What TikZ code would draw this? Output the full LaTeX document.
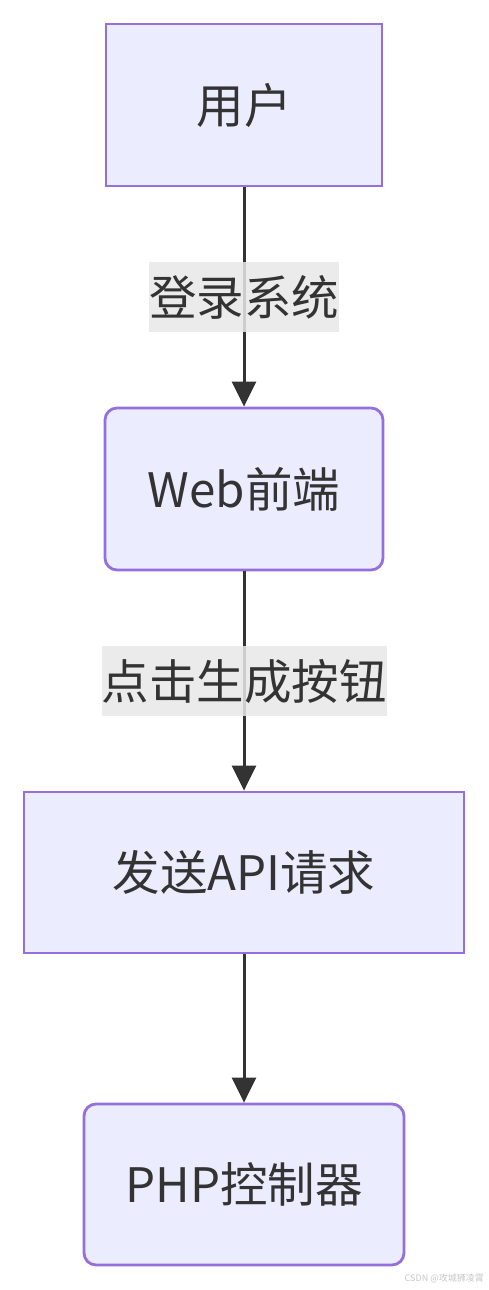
\documentclass[tikz,border=0pt]{standalone}
\usepackage{fontspec}
\newfontfamily\cjk{Noto Sans CJK SC}
\usepackage{tikz}
\usetikzlibrary{positioning}
\usetikzlibrary{arrows.meta}
\definecolor{nodefill}{HTML}{ECECFF}
\definecolor{nodeline}{HTML}{9370DB}
\definecolor{txt}{HTML}{333333}
\definecolor{lblbg}{HTML}{E8E8E8}
\tikzset{
  box/.style={draw=nodeline, fill=nodefill, line width=2.8pt, text=txt,
    font=\cjk\fontsize{47.5}{56}\selectfont, inner sep=0pt},
  rbox/.style={box, rounded corners=12pt},
  lbl/.style={fill=lblbg, fill opacity=0.85, text opacity=1, text=txt,
    font=\cjk\fontsize{47.5}{56}\selectfont, inner xsep=0pt, inner ysep=0pt,
    minimum height=70pt},
  arr/.style={draw=txt, line width=3pt, -{Triangle[length=25pt,width=24pt]}}
}
\begin{document}
\begin{tikzpicture}[x=1pt, y=-1pt]
\useasboundingbox (0,0) rectangle (488,1290);
\node[box, minimum width=276pt, minimum height=162pt] (user) at (244,105) {用户};
\node[rbox, minimum width=278pt, minimum height=162pt] (web) at (244,489) {Web前端};
\node[box, minimum width=440pt, minimum height=161pt] (api) at (244,872.5) {发送API请求};
\node[rbox, minimum width=320pt, minimum height=161pt] (php) at (244,1184.5) {PHP控制器};
\draw[arr] (user) -- (web) node[midway, lbl] (login) {登录系统};
\draw[arr] (web) -- (api) node[midway, lbl] (click) {点击生成按钮};
\draw[arr] (api) -- (php);
% watermark
\node[anchor=east, text=gray!45, font=\cjk\fontsize{9}{10}\selectfont, inner sep=0pt] (mark) at (484,1278) {CSDN @攻城狮凌霄};
\end{tikzpicture}
\end{document}
